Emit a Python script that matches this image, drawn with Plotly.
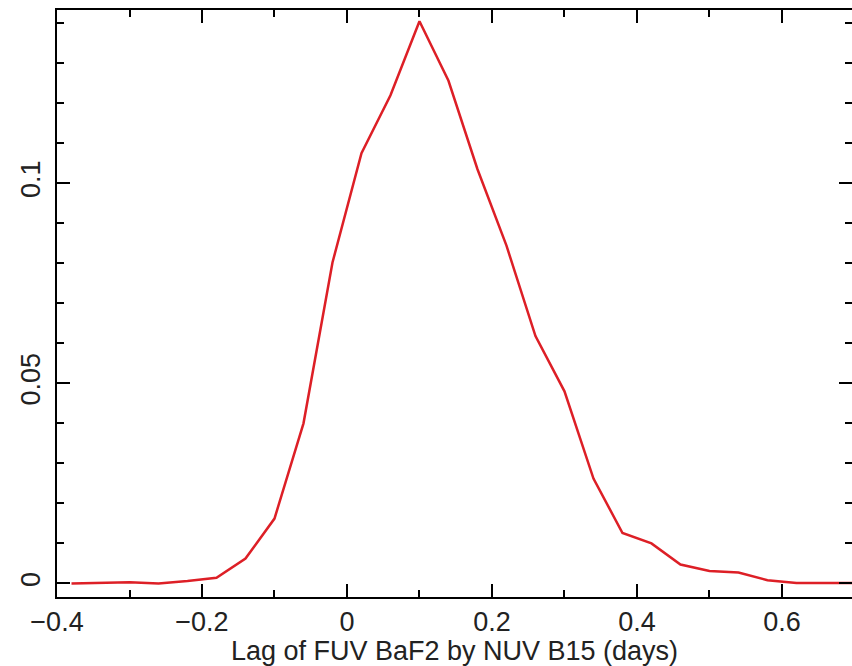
import plotly.graph_objects as go

lag = [-0.38, -0.34, -0.30, -0.26, -0.22, -0.18, -0.14, -0.10, -0.06, -0.02,
       0.02, 0.06, 0.10, 0.14, 0.18, 0.22, 0.26, 0.30, 0.34, 0.38,
       0.42, 0.46, 0.50, 0.54, 0.58, 0.62, 0.66, 0.70]
prob = [0.0000, 0.0001, 0.0003, 0.0000, 0.0006, 0.0014, 0.0062, 0.0162, 0.0400, 0.0802,
        0.1075, 0.1220, 0.1405, 0.1256, 0.1035, 0.0844, 0.0618, 0.0480, 0.0262, 0.0126,
        0.0100, 0.0047, 0.0031, 0.0027, 0.0008, 0.0001, 0.0001, 0.0001]

x_ticks = [-0.4, -0.2, 0, 0.2, 0.4, 0.6]
x_ticktext = ["\u22120.4", "\u22120.2", "0", "0.2", "0.4", "0.6"]
y_ticks = [0, 0.05, 0.1]
y_ticktext = ["0", "0.05", "0.1"]
x_title = "Lag of FUV BaF2 by NUV B15 (days)"

fig = go.Figure()
fig.add_trace(go.Scatter(x=lag, y=prob, mode="lines",
                         line=dict(color="#dd1f26", width=2.5), showlegend=False))

font = dict(family="Liberation Sans, Arial, Helvetica, sans-serif", size=27, color="#222222")

fig.update_layout(
    width=852, height=666,
    margin=dict(l=57, r=0, t=10, b=69, autoexpand=False),
    paper_bgcolor="white", plot_bgcolor="white",
    font=font,
    xaxis=dict(range=[-0.4, 0.6966], tickmode="array",
               tickvals=x_ticks, ticktext=x_ticktext,
               ticks="inside", ticklen=13, tickwidth=2, tickcolor="black",
               showline=True, linewidth=2, linecolor="black", mirror="allticks",
               showgrid=False, zeroline=False, automargin=False,
               minor=dict(dtick=0.1, tick0=0, ticks="inside", ticklen=7, tickwidth=2,
                          tickcolor="black", showgrid=False),
               title=dict(text=x_title, standoff=2, font=font),
               tickfont=font),
    yaxis=dict(range=[-0.0034, 0.1433], tickmode="array",
               tickvals=y_ticks, ticktext=y_ticktext,
               tickangle=-90, ticklabelstandoff=4,
               ticks="inside", ticklen=13, tickwidth=2, tickcolor="black",
               showline=True, linewidth=2, linecolor="black", mirror="allticks",
               showgrid=False, zeroline=False, automargin=False,
               minor=dict(dtick=0.01, tick0=0, ticks="inside", ticklen=7, tickwidth=2,
                          tickcolor="black", showgrid=False),
               tickfont=font),
)

fig.write_html("out.html", config={"displayModeBar": False},
               post_script="document.body.style.margin='0';document.body.style.overflow='hidden';")
